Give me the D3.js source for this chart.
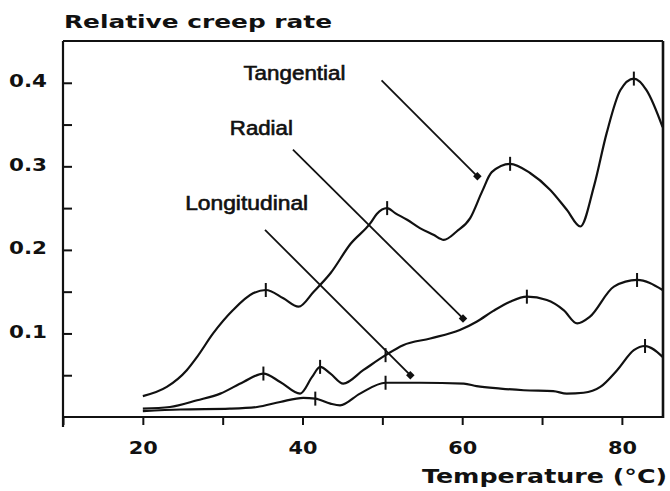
<!DOCTYPE html>
<html><head><meta charset="utf-8">
<script src="https://cdn.jsdelivr.net/npm/d3@7"></script>
<style>body{margin:0;background:#fff}</style>
</head><body><svg id="c" width="670" height="491"></svg>
<script>
// ---- data (temperature °C, relative creep rate) ----
const tangentialT = [20, 23, 25.5, 26.8, 28.8, 31.3, 33.8, 35.4, 37.6, 39.5, 41.4, 43.5, 46, 48.5, 49.3, 50.6, 51.6, 53.1, 54.7, 56.4, 57.7, 59.3, 61.0, 62.5, 63.7, 66.0, 68.5, 71.0, 73.1, 74.8, 76.5, 78.1, 79.8, 81.5, 83.1, 85.1];
const tangentialV = [0.025, 0.036, 0.056, 0.072, 0.100, 0.128, 0.148, 0.152, 0.142, 0.132, 0.150, 0.172, 0.207, 0.232, 0.243, 0.250, 0.244, 0.236, 0.226, 0.218, 0.212, 0.222, 0.238, 0.270, 0.293, 0.303, 0.292, 0.272, 0.248, 0.228, 0.276, 0.340, 0.391, 0.405, 0.391, 0.347];
const tangentialPeaks = [[35.4, 0.152], [50.6, 0.250], [66.0, 0.303], [81.5, 0.405]];

const radialT = [20, 23.4, 26.8, 29.7, 32.6, 35.1, 37.2, 39.7, 41.2, 42.2, 43.5, 45.1, 47.6, 50.4, 52.6, 56.0, 59.7, 61.8, 63.9, 66.0, 68.1, 70.6, 72.7, 74.4, 76.0, 79.0, 81.9, 85.1];
const radialV = [0.010, 0.012, 0.020, 0.028, 0.042, 0.052, 0.042, 0.028, 0.048, 0.060, 0.052, 0.040, 0.056, 0.074, 0.086, 0.094, 0.104, 0.114, 0.127, 0.138, 0.144, 0.140, 0.128, 0.112, 0.120, 0.156, 0.164, 0.152];
const radialPeaks = [[35.1, 0.052], [42.2, 0.060], [50.4, 0.074], [68.1, 0.144], [81.9, 0.164]];

const longitudinalT = [20, 24.7, 30.9, 34.3, 37.2, 40.1, 41.6, 43.5, 44.7, 47.2, 50.4, 54.7, 60.2, 61.8, 64.8, 67.7, 71.4, 73.1, 75.2, 77.3, 79.4, 81.5, 82.9, 85.1];
const longitudinalV = [0.007, 0.009, 0.010, 0.012, 0.018, 0.023, 0.022, 0.016, 0.014, 0.028, 0.041, 0.041, 0.040, 0.037, 0.034, 0.032, 0.031, 0.028, 0.029, 0.036, 0.056, 0.080, 0.085, 0.072];
const longitudinalPeaks = [[41.6, 0.022], [50.4, 0.041], [82.9, 0.085]];

const seriesNames = ["Tangential", "Radial", "Longitudinal"];
// label anchor (left, baseline) and arrow [fromT, fromV, toT, toV]
const labelPos = [[32.6, 0.403], [30.9, 0.337], [25.3, 0.248]];
const arrows = [[49.9, 0.403, 61.9, 0.288], [38.8, 0.320, 60.1, 0.118], [35.3, 0.224, 53.5, 0.050]];

const xTicks = [10, 20, 30, 40, 50, 60, 70, 80];
const xTickLabels = [20, 40, 60, 80];
const yTicks = [0.05, 0.1, 0.15, 0.2, 0.25, 0.3, 0.35, 0.4];
const yTickLabels = [0.1, 0.2, 0.3, 0.4];
const titleText = "Relative creep rate";
const xTitleText = "Temperature (°C)";

// ---- drawing ----
const svg = d3.select("#c");
const x = d3.scaleLinear().domain([10, 85.15]).range([63, 663]);
const y = d3.scaleLinear().domain([0, 0.45]).range([417, 41]);
const ink = "#111";
const boldFont = "'DejaVu Sans', Verdana, sans-serif";

// axes
const xAxis = d3.axisBottom(x).tickValues(xTicks).tickSize(8).tickPadding(16)
  .tickFormat(d => xTickLabels.includes(d) ? d : "");
const gx = svg.append("g").attr("transform", `translate(0,${y(0)})`).call(xAxis);
gx.select(".domain").remove();
gx.selectAll(".tick line").attr("stroke", ink).attr("stroke-width", 2);
gx.selectAll(".tick text").attr("font-family", boldFont).attr("font-weight", "bold")
  .attr("font-size", 18.5).attr("fill", ink)
  .each(function(d){ if (xTickLabels.includes(d)) d3.select(this).attr("textLength", 29).attr("lengthAdjust","spacingAndGlyphs"); });

const yAxis = d3.axisLeft(y).tickValues(yTicks).tickSizeInner(-9).tickSizeOuter(0).tickPadding(16)
  .tickFormat(d => yTickLabels.includes(d) ? d3.format(".1f")(d) : "");
const gy = svg.append("g").attr("transform", `translate(${x(10)},0)`).call(yAxis);
gy.select(".domain").remove();
gy.selectAll(".tick line").attr("stroke", ink).attr("stroke-width", 2);
gy.selectAll(".tick text").attr("font-family", boldFont).attr("font-weight", "bold")
  .attr("font-size", 18.5).attr("fill", ink).attr("dy", "0.22em")
  .each(function(d){ if (yTickLabels.includes(d)) d3.select(this).attr("textLength", 38).attr("lengthAdjust","spacingAndGlyphs"); });

// frame
const frame = svg.append("g").attr("stroke", ink).attr("fill", "none");
frame.append("line").attr("x1", x(10)).attr("x2", x(10)).attr("y1", y(0.45)).attr("y2", y(0) + 10).attr("stroke-width", 2.2);
frame.append("line").attr("x1", x(10) - 1).attr("x2", x(85.15)).attr("y1", y(0)).attr("y2", y(0)).attr("stroke-width", 2.2);
frame.append("line").attr("x1", x(10)).attr("x2", x(85.15)).attr("y1", y(0.45)).attr("y2", y(0.45)).attr("stroke-width", 2);
frame.append("line").attr("x1", x(85.15)).attr("x2", x(85.15)).attr("y1", y(0.45)).attr("y2", y(0) + 1).attr("stroke-width", 2.6);

// curves
const line = d3.line().x(d => x(d[0])).y(d => y(d[1])).curve(d3.curveMonotoneX);
const series = [
  [tangentialT, tangentialV, tangentialPeaks],
  [radialT, radialV, radialPeaks],
  [longitudinalT, longitudinalV, longitudinalPeaks]
];
series.forEach(([T, V, peaks]) => {
  const pts = T.map((t, i) => [t, V[i]]);
  svg.append("path").attr("d", line(pts)).attr("fill", "none").attr("stroke", ink)
    .attr("stroke-width", 2.2).attr("stroke-linejoin", "round");
  svg.selectAll(null).data(peaks).enter().append("line")
    .attr("x1", d => x(d[0])).attr("x2", d => x(d[0]))
    .attr("y1", d => y(d[1]) - 7).attr("y2", d => y(d[1]) + 7)
    .attr("stroke", ink).attr("stroke-width", 2);
});

// labels and arrows
const labelWidths = [102, 63, 123];
seriesNames.forEach((name, i) => {
  svg.append("text").attr("x", x(labelPos[i][0])).attr("y", y(labelPos[i][1]))
    .attr("font-family", "'Liberation Sans', Arial, sans-serif").attr("font-size", 19.5)
    .attr("fill", ink).attr("stroke", ink).attr("stroke-width", 0.6)
    .attr("textLength", labelWidths[i]).attr("lengthAdjust", "spacingAndGlyphs").text(name);
  const [t0, v0, t1, v1] = arrows[i];
  const x0 = x(t0), y0 = y(v0), x1 = x(t1), y1 = y(v1);
  svg.append("line").attr("x1", x0).attr("y1", y0).attr("x2", x1).attr("y2", y1)
    .attr("stroke", ink).attr("stroke-width", 1.8);
  const ang = Math.atan2(y1 - y0, x1 - x0) * 180 / Math.PI;
  svg.append("rect").attr("x", -3).attr("y", -3).attr("width", 6).attr("height", 6)
    .attr("fill", ink).attr("transform", `translate(${x1},${y1}) rotate(${ang})`);
});

// titles
svg.append("text").attr("x", 64).attr("y", 28).attr("font-family", boldFont).attr("font-weight", "bold")
  .attr("font-size", 18.5).attr("fill", ink).attr("textLength", 268).attr("lengthAdjust", "spacingAndGlyphs").text(titleText);
svg.append("text").attr("x", 422).attr("y", 483).attr("font-family", boldFont).attr("font-weight", "bold")
  .attr("font-size", 20).attr("fill", ink).attr("textLength", 245).attr("lengthAdjust", "spacingAndGlyphs").text(xTitleText);
</script>
</body></html>
